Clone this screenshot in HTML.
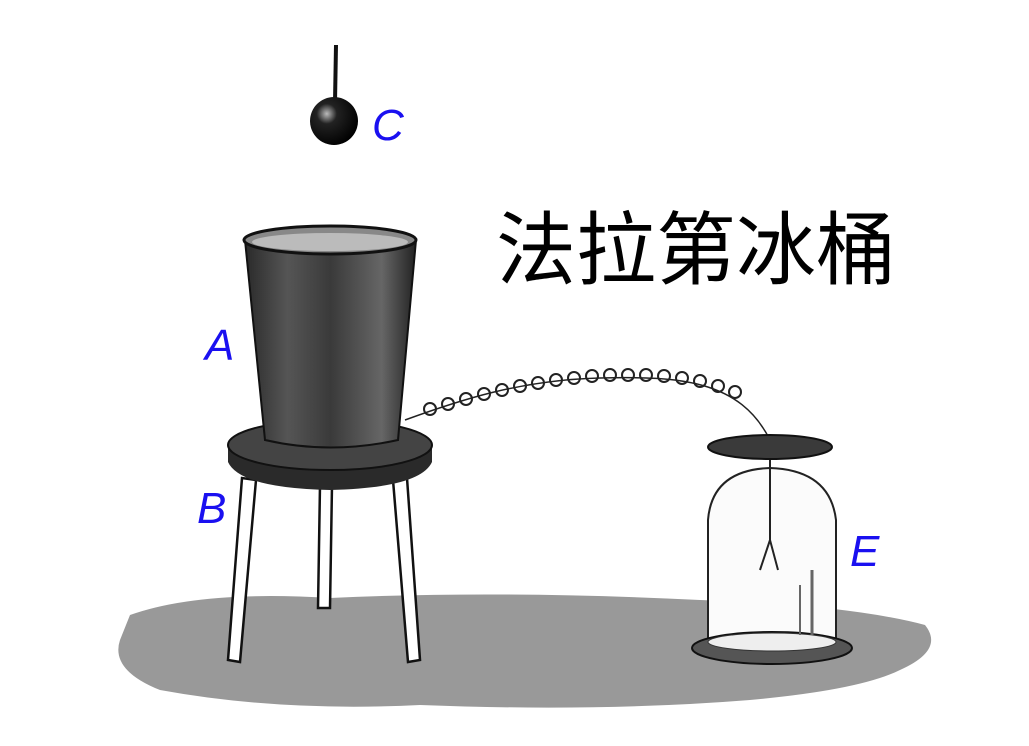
<!DOCTYPE html>
<html><head><meta charset="utf-8"><style>
html,body{margin:0;padding:0;background:#fff;width:1029px;height:746px;overflow:hidden}
</style></head><body>
<svg width="1029" height="746" viewBox="0 0 1029 746" xmlns="http://www.w3.org/2000/svg">
<defs>
<radialGradient id="ball" cx="0.35" cy="0.35" r="0.7"><stop offset="0" stop-color="#bbb"/><stop offset="0.3" stop-color="#222"/><stop offset="1" stop-color="#000"/></radialGradient>
<linearGradient id="buck" x1="0" x2="1"><stop offset="0" stop-color="#2a2a2a"/><stop offset="0.25" stop-color="#555"/><stop offset="0.5" stop-color="#3a3a3a"/><stop offset="0.8" stop-color="#666"/><stop offset="1" stop-color="#222"/></linearGradient>
</defs>
<rect width="1029" height="746" fill="#fff"/>
<path d="M130 615 Q200 590 330 598 Q500 590 700 600 Q850 605 925 625 Q945 650 900 670 Q860 690 750 700 Q600 712 420 705 Q280 712 160 690 Q110 670 120 640 Z" fill="#999"/>
<line x1="336" y1="45" x2="335" y2="102" stroke="#111" stroke-width="4"/>
<circle cx="334" cy="121" r="24" fill="url(#ball)"/>
<g stroke="#111" stroke-width="2.5" fill="#fff">
<path d="M242 478 L228 660 L240 662 L256 480 Z"/>
<path d="M320 485 L318 608 L330 608 L332 485 Z"/>
<path d="M393 480 L408 662 L420 660 L407 478 Z"/>
</g>
<path d="M228 445 L228 462 Q240 488 330 490 Q420 488 432 462 L432 445 Z" fill="#2a2a2a"/>
<ellipse cx="330" cy="445" rx="102" ry="25" fill="#444" stroke="#111" stroke-width="2"/>
<path d="M245 240 L265 440 Q330 455 398 440 L416 240 Z" fill="url(#buck)" stroke="#111" stroke-width="2"/>
<ellipse cx="330" cy="240" rx="86" ry="14" fill="#888" stroke="#111" stroke-width="3"/>
<ellipse cx="330" cy="242" rx="78" ry="9" fill="#bbb"/>
<path d="M405 420 C460 400 520 380 600 378 C680 376 740 380 770 440" fill="none" stroke="#222" stroke-width="1.5"/>
<g fill="none" stroke="#222" stroke-width="2">
<circle cx="430" cy="409" r="6"/><circle cx="448" cy="404" r="6"/><circle cx="466" cy="399" r="6"/><circle cx="484" cy="394" r="6"/><circle cx="502" cy="390" r="6"/><circle cx="520" cy="386" r="6"/><circle cx="538" cy="383" r="6"/><circle cx="556" cy="380" r="6"/><circle cx="574" cy="378" r="6"/><circle cx="592" cy="376" r="6"/><circle cx="610" cy="375" r="6"/><circle cx="628" cy="375" r="6"/><circle cx="646" cy="375" r="6"/><circle cx="664" cy="376" r="6"/><circle cx="682" cy="378" r="6"/><circle cx="700" cy="381" r="6"/><circle cx="718" cy="386" r="6"/><circle cx="735" cy="392" r="6"/>
</g>
<path d="M708 640 L708 520 Q712 470 770 468 Q830 470 836 520 L836 640" fill="#fbfbfb" stroke="#222" stroke-width="2"/>
<ellipse cx="772" cy="648" rx="80" ry="16" fill="#555" stroke="#111" stroke-width="2"/>
<ellipse cx="772" cy="642" rx="64" ry="9" fill="#eee" stroke="#333"/>
<line x1="770" y1="450" x2="770" y2="540" stroke="#222" stroke-width="2"/>
<path d="M770 540 L760 570 M770 540 L778 570" stroke="#222" stroke-width="2"/>
<line x1="812" y1="570" x2="812" y2="635" stroke="#666" stroke-width="3"/>
<line x1="800" y1="585" x2="800" y2="635" stroke="#666" stroke-width="2"/>
<ellipse cx="770" cy="447" rx="62" ry="12" fill="#3a3a3a" stroke="#111" stroke-width="2"/>
<g font-family="Liberation Sans, sans-serif" font-style="italic" font-size="44" fill="#1a10f0">
<text x="372" y="140">C</text>
<text x="205" y="360">A</text>
<text x="197" y="523">B</text>
<text x="850" y="566">E</text>
</g>
<text x="496" y="278" font-family="Liberation Sans, 'Noto Sans CJK SC', sans-serif" font-size="80" fill="#000">法拉第冰桶</text>
</svg>
</body></html>
